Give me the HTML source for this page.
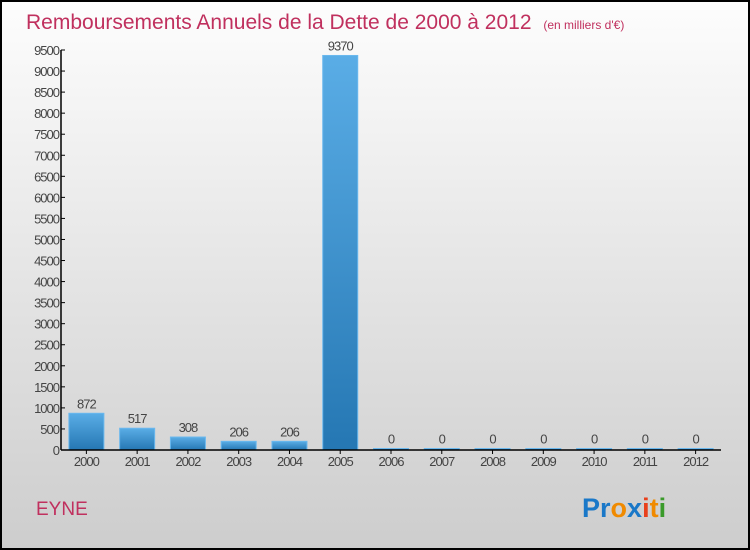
<!DOCTYPE html>
<html><head><meta charset="utf-8"><style>
body{margin:0;}
svg{display:block;font-family:"Liberation Sans",sans-serif;}
</style></head><body>
<svg id="c" width="750" height="550">
<defs>
<linearGradient id="bg" x1="0" y1="0" x2="0" y2="1"><stop offset="0" stop-color="#fdfdfd"/><stop offset="1" stop-color="#cdcdcd"/></linearGradient>
<linearGradient id="bar" x1="0" y1="0" x2="0" y2="1"><stop offset="0" stop-color="#5aade6"/><stop offset="1" stop-color="#2577b3"/></linearGradient>
</defs>
<rect x="1" y="1" width="748" height="548" fill="url(#bg)" stroke="#000" stroke-width="2"/>
<text x="26" y="29" font-size="21" fill="#c0305e">Remboursements Annuels de la Dette de 2000 à 2012 <tspan font-size="12" dx="6">(en milliers d'€)</tspan></text>
<text x="36" y="515" font-size="19" fill="#c0305e">EYNE</text>
<text x="582" y="517" font-size="27" font-weight="bold"><tspan fill="#1a78c8">Pr</tspan><tspan fill="#f08a00">o</tspan><tspan fill="#1a78c8">x</tspan><tspan fill="#e8401c">i</tspan><tspan fill="#f08a00">t</tspan><tspan fill="#3a9a2a">i</tspan></text>
<g id="g"></g>
</svg>
<script>
const years=["2000","2001","2002","2003","2004","2005","2006","2007","2008","2009","2010","2011","2012"];
const values=[872,517,308,206,206,9370,0,0,0,0,0,0,0];
const ticks=[0,500,1000,1500,2000,2500,3000,3500,4000,4500,5000,5500,6000,6500,7000,7500,8000,8500,9000,9500];
const NS="http://www.w3.org/2000/svg";
const g=document.getElementById('g');
const x0=61,x1=721,y0=450,yTop=50,ymax=9500;
const step=(x1-x0)/years.length;
const y=v=>y0-(v/ymax)*(y0-yTop);
const xc=i=>x0+step*(i+0.5);
function mk(t,a){const e=document.createElementNS(NS,t);for(const k in a)e.setAttribute(k,a[k]);g.appendChild(e);return e;}
ticks.forEach(t=>{
 const l=mk('line',{x1:x0,x2:x0+4,y1:y(t),y2:y(t),stroke:'#000'});
 
 
 const tx=mk('text',{x:x0-2,y:y(t)+5,'text-anchor':'end','font-size':'13',fill:'#444','letter-spacing':'-1'});
 tx.textContent=t;
 
 
});
values.forEach((v,i)=>{
 const bw=35,h=Math.max(y0-y(v),1.5);
 const r=mk('rect',{x:xc(i)-bw/2,y:y0-h,width:bw,height:h,fill:'url(#bar)',stroke:'#6ab8ee','stroke-width':'1'});
 
 
 const t=mk('text',{x:xc(i),y:y0-h-5,'text-anchor':'middle','font-size':'13',fill:'#444','letter-spacing':'-1'});
 t.textContent=v;
 
 
 const tk=mk('line',{x1:xc(i),x2:xc(i),y1:y0,y2:y0+4,stroke:'#000'});
 
 
 const xl=mk('text',{x:xc(i),y:y0+16,'text-anchor':'middle','font-size':'13',fill:'#444','letter-spacing':'-1'});
 xl.textContent=years[i];
 
 
});
const ya=mk('line',{x1:x0,x2:x0,y1:yTop,y2:y0,stroke:'#000','stroke-width':'1.5'});


const xa=mk('line',{x1:x0,x2:x1,y1:y0,y2:y0,stroke:'#000','stroke-width':'1.5'});


</script>
</body></html>
